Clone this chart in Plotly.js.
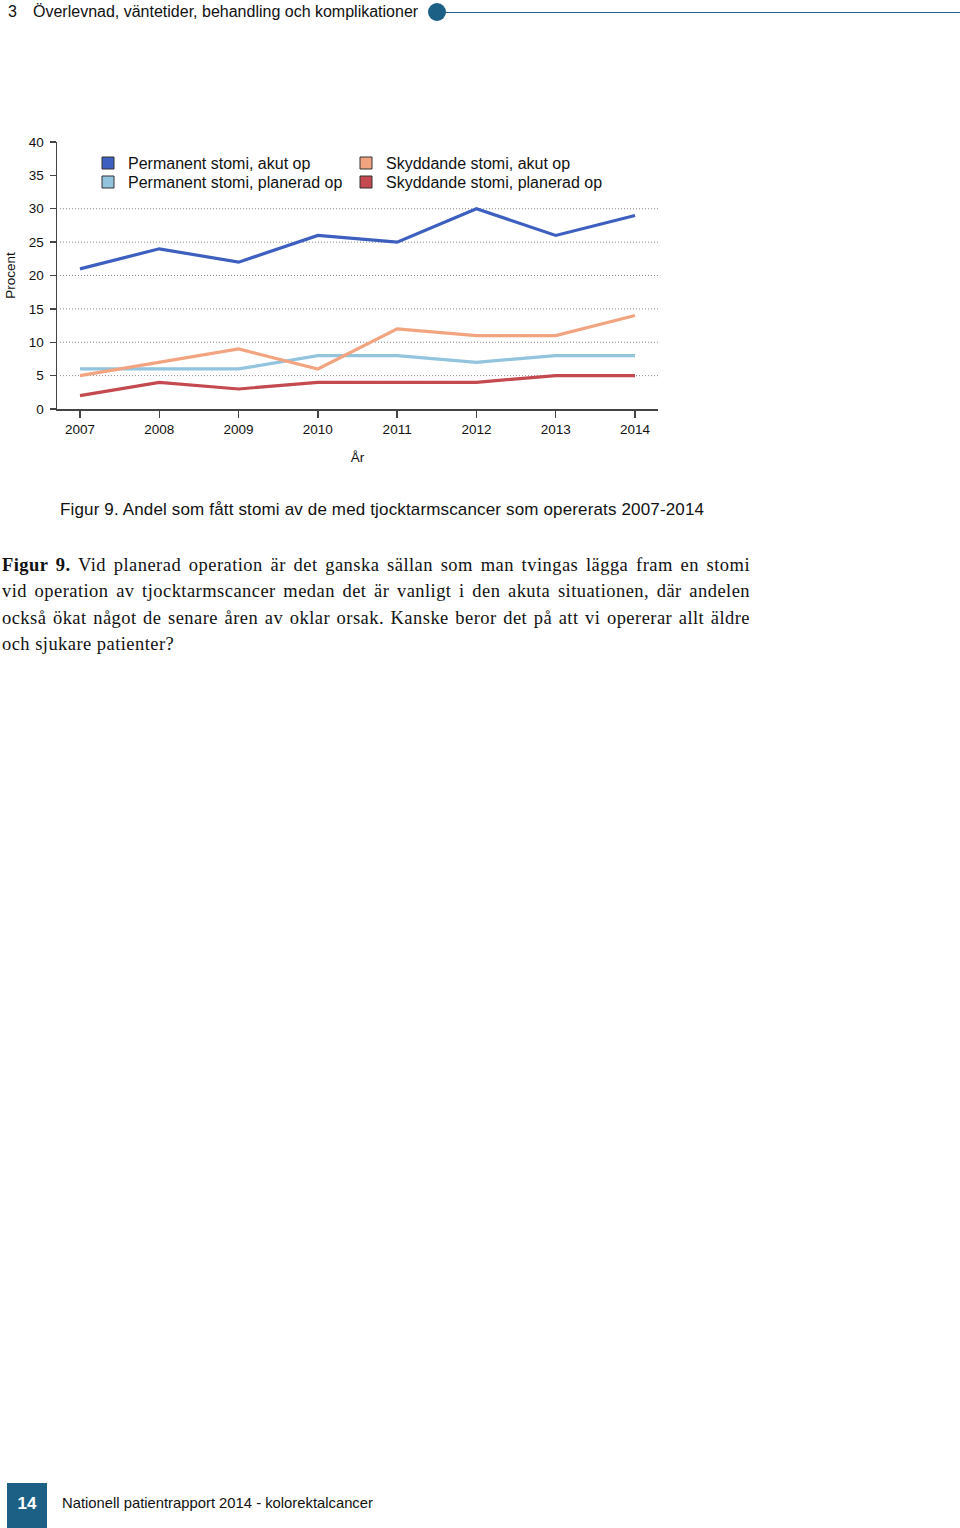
<!DOCTYPE html>
<html>
<head>
<meta charset="utf-8">
<script src="https://cdn.plot.ly/plotly-3.0.1.min.js"></script>
<style>
  html, body { margin: 0; padding: 0; background: #fff; }
  #page { position: relative; width: 960px; height: 1528px; overflow: hidden; }
  #chart { position: absolute; left: 0; top: 0; width: 960px; height: 1528px; }
  .abs { position: absolute; white-space: nowrap; color: #111; }
  #header { left: 8px; top: 3px; font-family: "Liberation Sans", Arial, sans-serif; font-size: 16px; }
  #header .num { display: inline-block; width: 25px; }
  #hdot { position: absolute; left: 428px; top: 3px; width: 18px; height: 18px; border-radius: 50%; background: #1d6086; }
  #hline { position: absolute; left: 445px; top: 12px; width: 515px; height: 1px; background: #1d6086; }
  #caption { left: 60px; top: 500px; font-family: "Liberation Sans", Arial, sans-serif; font-size: 17px; letter-spacing: 0.15px; }
  .para { position: absolute; left: 2px; width: 748px; font-family: "Liberation Serif", "DejaVu Serif", serif; font-size: 18.5px; letter-spacing: 0.45px; color: #111; white-space: nowrap; }
  .just { text-align: justify; text-align-last: justify; }
  #pbox { position: absolute; left: 7px; top: 1483px; width: 40px; height: 45px; background: #1d6086; color: #fff; font-family: "Liberation Sans", Arial, sans-serif; font-weight: bold; font-size: 17px; text-align: center; line-height: 42px; }
  #footer { left: 62px; top: 1495px; font-family: "Liberation Sans", Arial, sans-serif; font-size: 14.8px; }
</style>
</head>
<body>
<div id="page">
  <div id="chart"></div>
  <div id="header" class="abs"><span class="num">3</span>Överlevnad, väntetider, behandling och komplikationer</div>
  <div id="hdot"></div>
  <div id="hline"></div>
  <div id="caption" class="abs">Figur 9. Andel som fått stomi av de med tjocktarmscancer som opererats 2007-2014</div>
  <div class="para just" style="top:555px;"><b>Figur 9.</b> Vid planerad operation är det ganska sällan som man tvingas lägga fram en stomi</div>
  <div class="para just" style="top:581px;">vid operation av tjocktarmscancer medan det är vanligt i den akuta situationen, där andelen</div>
  <div class="para just" style="top:608px;">också ökat något de senare åren av oklar orsak. Kanske beror det på att vi opererar allt äldre</div>
  <div class="para" style="top:634px;">och sjukare patienter?</div>
  <div id="pbox">14</div>
  <div id="footer" class="abs">Nationell patientrapport 2014 - kolorektalcancer</div>
</div>
<script>
// ---- data ----
const years = [2007, 2008, 2009, 2010, 2011, 2012, 2013, 2014];
const seriesNames = [
  "Permanent stomi, akut op",
  "Permanent stomi, planerad op",
  "Skyddande stomi, akut op",
  "Skyddande stomi, planerad op"
];
const permanentAkut     = [21, 24, 22, 26, 25, 30, 26, 29];
const permanentPlanerad = [6, 6, 6, 8, 8, 7, 8, 8];
const skyddandeAkut     = [5, 7, 9, 6, 12, 11, 11, 14];
const skyddandePlanerad = [2, 4, 3, 4, 4, 4, 5, 5];
const yTicks = [0, 5, 10, 15, 20, 25, 30, 35, 40];
const gridValues = [5, 10, 15, 20, 25, 30];

const colors = ["#3d5fc0", "#92c4de", "#f2a481", "#c44a4f"];
const seriesValues = [permanentAkut, permanentPlanerad, skyddandeAkut, skyddandePlanerad];

const traces = seriesValues.map((vals, i) => ({
  type: "scatter", mode: "lines", x: years, y: vals, name: seriesNames[i],
  line: { color: colors[i], width: 3.2 }, showlegend: false, hoverinfo: "x+y+name"
}));

const L = 57, T = 142, W = 601, H = 267;
const shapes = gridValues.map(v => ({
  type: "line", xref: "paper", yref: "y", x0: 3 / W, x1: 1, y0: v, y1: v,
  line: { color: "#888", width: 1, dash: "1px,2px" }, layer: "below"
}));

// manual legend (two columns)
const legendPos = [
  { px: 102, py: 163 }, { px: 102, py: 182 }, { px: 360, py: 163 }, { px: 360, py: 182 }
];
const annotations = [];
legendPos.forEach((p, i) => {
  const x0 = (p.px - L) / W, x1 = (p.px + 12 - L) / W;
  const y0 = 1 - (p.py - 6 - T) / H, y1 = 1 - (p.py + 6 - T) / H;
  shapes.push({ type: "rect", xref: "paper", yref: "paper", x0: x0, x1: x1, y0: y1, y1: y0,
    fillcolor: colors[i], line: { color: "#333", width: 1 } });
  annotations.push({ xref: "paper", yref: "paper", x: (p.px + 24 - L) / W, y: 1 - (p.py - T) / H,
    xanchor: "left", yanchor: "middle", showarrow: false, text: seriesNames[i],
    font: { family: "Liberation Sans, Arial, sans-serif", size: 16, color: "#111" } });
});

const layout = {
  width: 960, height: 1528,
  margin: { l: L, t: T, r: 960 - L - W, b: 1528 - T - H, pad: 0 },
  paper_bgcolor: "#fff", plot_bgcolor: "#fff",
  showlegend: false,
  font: { family: "Liberation Sans, Arial, sans-serif", size: 13.5, color: "#111" },
  xaxis: {
    range: [2006.71, 2014.29], tickvals: years, ticktext: years.map(String),
    ticks: "outside", ticklen: 7, tickwidth: 1.3, tickcolor: "#444",
    showline: true, linecolor: "#444", linewidth: 1.5, showgrid: false, zeroline: false,
    title: { text: "År", standoff: 17, font: { size: 13.5 } }, fixedrange: true
  },
  yaxis: {
    range: [0, 40], tickvals: yTicks, ticktext: yTicks.map(String),
    ticks: "outside", ticklen: 6, tickwidth: 1.3, tickcolor: "#444", ticklabelstandoff: 3,
    showline: true, linecolor: "#444", linewidth: 1.5, showgrid: false, zeroline: false,
    title: { text: "Procent", standoff: 10, font: { size: 13.5 } }, fixedrange: true
  },
  shapes: shapes,
  annotations: annotations
};

Plotly.newPlot("chart", [traces[1], traces[2], traces[3], traces[0]], layout, { displayModeBar: false, staticPlot: true });
</script>
</body>
</html>
